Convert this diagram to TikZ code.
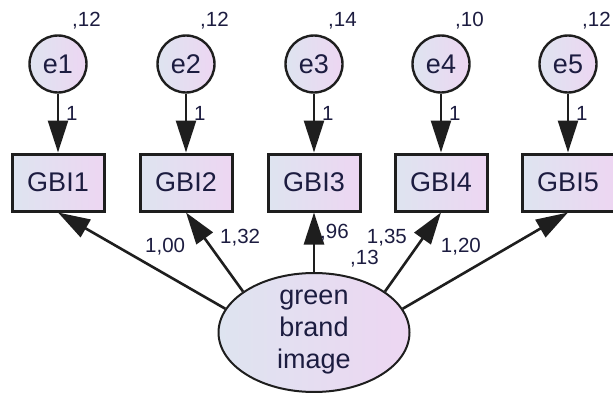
\documentclass[tikz,border=0pt]{standalone}
\usepackage{fontspec}
\setmainfont{Liberation Sans}
\usetikzlibrary{arrows.meta,shapes.geometric}
\definecolor{lblue}{RGB}{222,228,240}
\definecolor{lpink}{RGB}{237,214,242}
\definecolor{ink}{RGB}{28,28,64}
\definecolor{edgecol}{RGB}{30,30,30}

\begin{document}
\begin{tikzpicture}[x=1pt,y=1pt,>={Triangle[length=32pt,width=20pt]}]
      \useasboundingbox (0,0) rectangle (613,392);

      % error terms
      \begin{scope}[every node/.style={circle,draw=edgecol,line width=2.4pt,left color=lblue,right color=lpink,
          minimum size=57pt,inner sep=0pt,text=ink,font=\fontsize{27}{31}\selectfont}]
        \node (e1) at (58,328)  {e1};
        \node (e2) at (186,328) {e2};
        \node (e3) at (314,328) {e3};
        \node (e4) at (441,328) {e4};
        \node (e5) at (568,328) {e5};
      \end{scope}

      % observed items
      \begin{scope}[every node/.style={rectangle,draw=edgecol,line width=3pt,left color=lblue,right color=lpink,
          minimum width=92pt,minimum height=57pt,inner sep=0pt,text=ink,font=\fontsize{27}{31}\selectfont}]
        \node (g1) at (58,209.5)  {GBI1};
        \node (g2) at (186,209.5) {GBI2};
        \node (g3) at (314,209.5) {GBI3};
        \node (g4) at (441,209.5) {GBI4};
        \node (g5) at (568,209.5) {GBI5};
      \end{scope}

      % latent factor
      \node[ellipse,draw=edgecol,line width=2pt,left color=lblue,right color=lpink,minimum width=191pt,
        minimum height=113pt,inner sep=0pt,align=center,text=ink,font=\fontsize{27}{32}\selectfont]
        (img) at (314,59.5) {green\\brand\\image};

      \begin{scope}[line width=2.6pt,draw=edgecol]
        \draw[->] (e1) -- (g1);
        \draw[->] (e2) -- (g2);
        \draw[->] (e3) -- (g3);
        \draw[->] (e4) -- (g4);
        \draw[->] (e5) -- (g5);
        \draw[->] (img.165) -- (g1.south);
        \draw[->] (img.150) -- (g2.south);
        \draw[->] (img.north) -- (g3.south);
        \draw[->] (img.30) -- (g4.south);
        \draw[->] (img.15) -- (g5.south);
      \end{scope}

      \begin{scope}[every node/.style={text=ink,font=\fontsize{20.5}{24}\selectfont,inner sep=0pt}]
        % variances
        \node[anchor=base west] (v1) at ([shift={(14,38)}]e1.center) {,12};
        \node[anchor=base west] (v2) at ([shift={(14,38)}]e2.center) {,12};
        \node[anchor=base west] (v3) at ([shift={(14,38)}]e3.center) {,14};
        \node[anchor=base west] (v4) at ([shift={(14,38)}]e4.center) {,10};
        \node[anchor=base west] (v5) at ([shift={(14,38)}]e5.center) {,12};
        \node[anchor=base west] (v6) at ([shift={(36,8)}]img.north) {,13};
        % fixed paths
        \node[anchor=base west] (f1) at ([shift={(8,-56)}]e1.center) {1};
        \node[anchor=base west] (f2) at ([shift={(8,-56)}]e2.center) {1};
        \node[anchor=base west] (f3) at ([shift={(8,-56)}]e3.center) {1};
        \node[anchor=base west] (f4) at ([shift={(8,-56)}]e4.center) {1};
        \node[anchor=base west] (f5) at ([shift={(8,-56)}]e5.center) {1};
        % loadings
        \node[anchor=base west] (l1) at ([shift={(87,-39.5)}]g1.south)  {1,00};
        \node[anchor=base west] (l2) at ([shift={(34,-30.5)}]g2.south)  {1,32};
        \node[anchor=base west] (l3) at ([shift={(6,-25.5)}]g3.south)   {,96};
        \node[anchor=base east] (l4) at ([shift={(-34,-30.5)}]g4.south) {1,35};
        \node[anchor=base east] (l5) at ([shift={(-87,-39.5)}]g5.south) {1,20};
      \end{scope}

    \end{tikzpicture}
\end{document}
